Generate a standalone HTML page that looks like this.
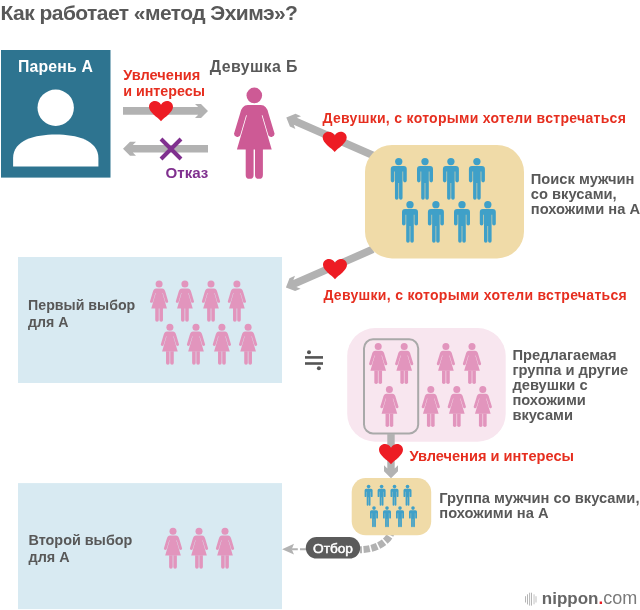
<!DOCTYPE html>
<html><head><meta charset="utf-8">
<style>
html,body{margin:0;padding:0;background:#fff;}
body{width:640px;height:610px;overflow:hidden;}
svg{display:block;will-change:transform;}
text{font-family:"Liberation Sans",sans-serif;font-weight:bold;}
</style></head>
<body>
<svg width="640" height="610" viewBox="0 0 640 610">
<defs>
  <g id="woman">
    <circle cx="21" cy="7.8" r="7.8"/>
    <path d="M14.5 17.4H27.5Q33.5 17.4 35.2 25.9L41.3 46.2A3.4 3.4 0 0 1 35.15 48L29.2 27.7H28.4L38.4 61.8H3.6L13.6 27.7H12.8L6.85 48A3.4 3.4 0 0 1 0.7 46.2L6.8 25.9Q8.5 17.4 14.5 17.4Z"/>
    <path d="M12.4 61H20.3V87.3A3.95 3.95 0 0 1 12.4 87.3Z"/>
    <path d="M21.7 61H29.6V87.3A3.95 3.95 0 0 1 21.7 87.3Z"/>
  </g>
  <g id="man">
    <circle cx="8" cy="3.65" r="3.65"/>
    <path d="M3 8.1H13Q16 8.1 16 11.1V22.7A1.8 1.8 0 0 1 12.4 22.7V13.7H11.8V40A1.75 1.75 0 0 1 8.3 40V25.1H7.7V40A1.75 1.75 0 0 1 4.2 40V13.7H3.6V22.7A1.8 1.8 0 0 1 0 22.7V11.1Q0 8.1 3 8.1Z"/>
  </g>
  <path id="heart" d="M12 3.8C10.5 1.2 8.5 0 6 0C2.5 0 0 2.6 0 5.8C0 8.8 2 11 4.5 13.5C7.5 16.3 10.5 18 12 20.3C13.5 18 16.5 16.3 19.5 13.5C22 11 24 8.8 24 5.8C24 2.6 21.5 0 18 0C15.5 0 13.5 1.2 12 3.8Z"/>
</defs>

<!-- Title -->
<text x="0.6" y="19.8" font-size="21" letter-spacing="-0.55" fill="#585858">Как работает «метод Эхимэ»?</text>

<!-- Парень А -->
<rect x="1" y="50" width="109.5" height="127.6" fill="#2e7490"/>
<text x="55.6" y="72.2" font-size="15.8" letter-spacing="0.2" fill="#fff" text-anchor="middle">Парень А</text>
<circle cx="55.7" cy="107.7" r="18.2" fill="#fff"/>
<path d="M13.1 166.4V158C13.1 140 35 134.4 55.75 134.4C76.5 134.4 98.4 140 98.4 158V166.4Z" fill="#fff"/>

<!-- arrows between -->
<path transform="translate(208,110.9)" d="M-85 -3.8H-9.8L-13 -7H-7L0 0L-7 7H-13L-9.8 3.8H-85Z" fill="#b2b2b2"/>
<use href="#heart" transform="translate(149,101)" fill="#ed1c24"/>
<path transform="translate(123,148.8) rotate(180)" d="M-85 -3.8H-9.8L-13 -7H-7L0 0L-7 7H-13L-9.8 3.8H-85Z" fill="#b2b2b2"/>
<path d="M161 139L181 159M181 139L161 159" stroke="#80308f" stroke-width="4"/>
<text x="123.2" y="80.2" font-size="14.6" fill="#e62e1f">Увлечения</text>
<text x="123.2" y="95.5" font-size="14.3" fill="#e62e1f">и интересы</text>
<text x="165.5" y="178.2" font-size="15.1" fill="#80308f">Отказ</text>

<!-- Девушка Б -->
<text x="209.8" y="72" font-size="15.9" letter-spacing="0.4" fill="#585858">Девушка Б</text>
<use href="#woman" transform="translate(233.3,87.6)" fill="#cd5a95"/>

<!-- diagonal arrow 1 -->
<path transform="translate(286.3,117.4) rotate(203.7)" d="M-95 -3.8H-9.8L-13 -7H-7L0 0L-7 7H-13L-9.8 3.8H-95Z" fill="#b2b2b2"/>
<use href="#heart" transform="translate(322.7,131.7)" fill="#ed1c24"/>
<text x="322.5" y="123.1" font-size="14" letter-spacing="0.3" fill="#e62e1f">Девушки, с которыми хотели встречаться</text>

<!-- diagonal arrow 2 -->
<path transform="translate(285.9,287.5) rotate(156.3)" d="M-95 -3.8H-9.8L-13 -7H-7L0 0L-7 7H-13L-9.8 3.8H-95Z" fill="#b2b2b2"/>

<!-- tan box 1 -->
<rect x="365" y="145" width="159" height="113.4" rx="27" fill="#f0dba8"/>
<g fill="#3fa0c8">
  <use href="#man" transform="translate(390.75,157.9)"/>
  <use href="#man" transform="translate(417,157.9)"/>
  <use href="#man" transform="translate(442.9,157.9)"/>
  <use href="#man" transform="translate(468.9,157.9)"/>
  <use href="#man" transform="translate(402,201)"/>
  <use href="#man" transform="translate(427.9,201)"/>
  <use href="#man" transform="translate(454,201)"/>
  <use href="#man" transform="translate(479.8,201)"/>
</g>
<g font-size="14.7" fill="#585858">
<text x="530.8" y="183.7">Поиск мужчин</text>
<text x="530.8" y="198.6">со вкусами,</text>
<text x="530.8" y="213.9">похожими на А</text>
</g>

<use href="#heart" transform="translate(323,259)" fill="#ed1c24"/>
<text x="323.4" y="300.3" font-size="14" letter-spacing="0.3" fill="#e62e1f">Девушки, с которыми хотели встречаться</text>

<!-- light blue box 1 -->
<rect x="18" y="257" width="264" height="126" fill="#d8eaf2"/>
<g font-size="14.2" fill="#585858">
<text x="28.1" y="310.3">Первый выбор</text>
<text x="28.1" y="326.6">для А</text>
</g>
<g fill="#e295bd">
  <use href="#woman" transform="translate(149.65,280.6) scale(0.45)"/>
  <use href="#woman" transform="translate(175.45,280.6) scale(0.45)"/>
  <use href="#woman" transform="translate(201.55,280.6) scale(0.45)"/>
  <use href="#woman" transform="translate(227.45,280.6) scale(0.45)"/>
  <use href="#woman" transform="translate(160.45,323.7) scale(0.45)"/>
  <use href="#woman" transform="translate(186.55,323.7) scale(0.45)"/>
  <use href="#woman" transform="translate(212.45,323.7) scale(0.45)"/>
  <use href="#woman" transform="translate(238.65,323.7) scale(0.45)"/>
</g>

<!-- approx equal -->
<g fill="#555">
  <rect x="305" y="356.1" width="18" height="2.6"/>
  <rect x="305" y="362.2" width="18" height="2.6"/>
  <circle cx="309" cy="352.3" r="2"/>
  <circle cx="318.9" cy="368.2" r="2"/>
</g>

<!-- pink box -->
<rect x="347.2" y="328" width="158.5" height="113.7" rx="28" fill="#f8e6ef"/>
<rect x="364" y="339.3" width="54.2" height="94.1" rx="9" fill="none" stroke="#a9a9a9" stroke-width="2"/>
<g fill="#e295bd">
  <use href="#woman" transform="translate(368.75,343) scale(0.45)"/>
  <use href="#woman" transform="translate(394.75,343) scale(0.45)"/>
  <use href="#woman" transform="translate(436.45,343) scale(0.45)"/>
  <use href="#woman" transform="translate(462.55,343) scale(0.45)"/>
  <use href="#woman" transform="translate(379.95,386) scale(0.45)"/>
  <use href="#woman" transform="translate(421.35,386) scale(0.45)"/>
  <use href="#woman" transform="translate(447.35,386) scale(0.45)"/>
  <use href="#woman" transform="translate(473.35,386) scale(0.45)"/>
</g>
<g font-size="14.7" fill="#585858">
<text x="512.4" y="359.7">Предлагаемая</text>
<text x="512.4" y="374.7">группа и другие</text>
<text x="512.4" y="389.9">девушки с</text>
<text x="512.4" y="405">похожими</text>
<text x="512.4" y="419.9">вкусами</text>
</g>

<!-- vertical arrow -->
<path transform="translate(391,478.3) rotate(90)" d="M-44.3 -3.7H-9.8L-13 -7H-7L0 0L-7 7H-13L-9.8 3.7H-44.3Z" fill="#b2b2b2"/>
<use href="#heart" transform="translate(379,444)" fill="#ed1c24"/>
<text x="409.4" y="461" font-size="14.6" fill="#e62e1f">Увлечения и интересы</text>

<!-- dashed curve -->
<path d="M360 549.7A32 22.7 0 0 0 391.5 532" fill="none" stroke="#b2b2b2" stroke-width="7" stroke-dasharray="6.2 1.6" stroke-dashoffset="4.2"/>

<!-- tan box 2 -->
<rect x="351.7" y="478.1" width="79.5" height="57.2" rx="14" fill="#f0dba8"/>
<g fill="#3fa0c8">
  <use href="#man" transform="translate(364.6,484.8) scale(0.5)"/>
  <use href="#man" transform="translate(377.6,484.8) scale(0.5)"/>
  <use href="#man" transform="translate(390.5,484.8) scale(0.5)"/>
  <use href="#man" transform="translate(403.5,484.8) scale(0.5)"/>
  <use href="#man" transform="translate(370,506.3) scale(0.5)"/>
  <use href="#man" transform="translate(383,506.3) scale(0.5)"/>
  <use href="#man" transform="translate(396,506.3) scale(0.5)"/>
  <use href="#man" transform="translate(409,506.3) scale(0.5)"/>
</g>
<g font-size="14.7" fill="#585858">
<text x="439.3" y="503">Группа мужчин со вкусами,</text>
<text x="439.3" y="518">похожими на А</text>
</g>

<!-- light blue box 2 -->
<rect x="18" y="483.1" width="264" height="126" fill="#d8eaf2"/>
<g font-size="14.4" fill="#585858">
<text x="28.5" y="545.3">Второй выбор</text>
<text x="28.5" y="561.8">для А</text>
</g>
<g fill="#e295bd">
  <use href="#woman" transform="translate(163.55,527.7) scale(0.45)"/>
  <use href="#woman" transform="translate(189.55,527.7) scale(0.45)"/>
  <use href="#woman" transform="translate(215.55,527.7) scale(0.45)"/>
</g>

<!-- Отбор pill and dashed arrow -->
<path d="M282.1 549.2L294 543.8L291.7 549.2L294 554.6Z" fill="#b2b2b2"/>
<line x1="291.5" y1="549.3" x2="307" y2="549.3" stroke="#b2b2b2" stroke-width="2" stroke-dasharray="6.3 2.2"/>
<rect x="305.8" y="537" width="54.4" height="21.6" rx="10.8" fill="#5b5b5b"/>
<text x="313" y="553.1" font-size="13.7" style="font-weight:normal" stroke="#fff" stroke-width="0.5" fill="#fff">Отбор</text>

<!-- logo -->
<g fill="#b5b5b5">
  <rect x="525" y="596.2" width="1" height="6.3"/>
  <rect x="527" y="594.3" width="1" height="10.1"/>
  <rect x="529.1" y="592.7" width="1" height="12.9"/>
  <rect x="531" y="592.7" width="1" height="12.9"/>
</g>
<g fill="#d8d8d8">
  <rect x="533.3" y="594.3" width="1.5" height="10"/>
  <rect x="535.2" y="596.2" width="1.6" height="6.3"/>
</g>
<text x="541.8" y="603.7" font-size="17" fill="#666">nippon<tspan fill="#ed1c24">.</tspan><tspan font-weight="normal" font-size="18" fill="#7a7a7a">com</tspan></text>
</svg>
</body></html>
